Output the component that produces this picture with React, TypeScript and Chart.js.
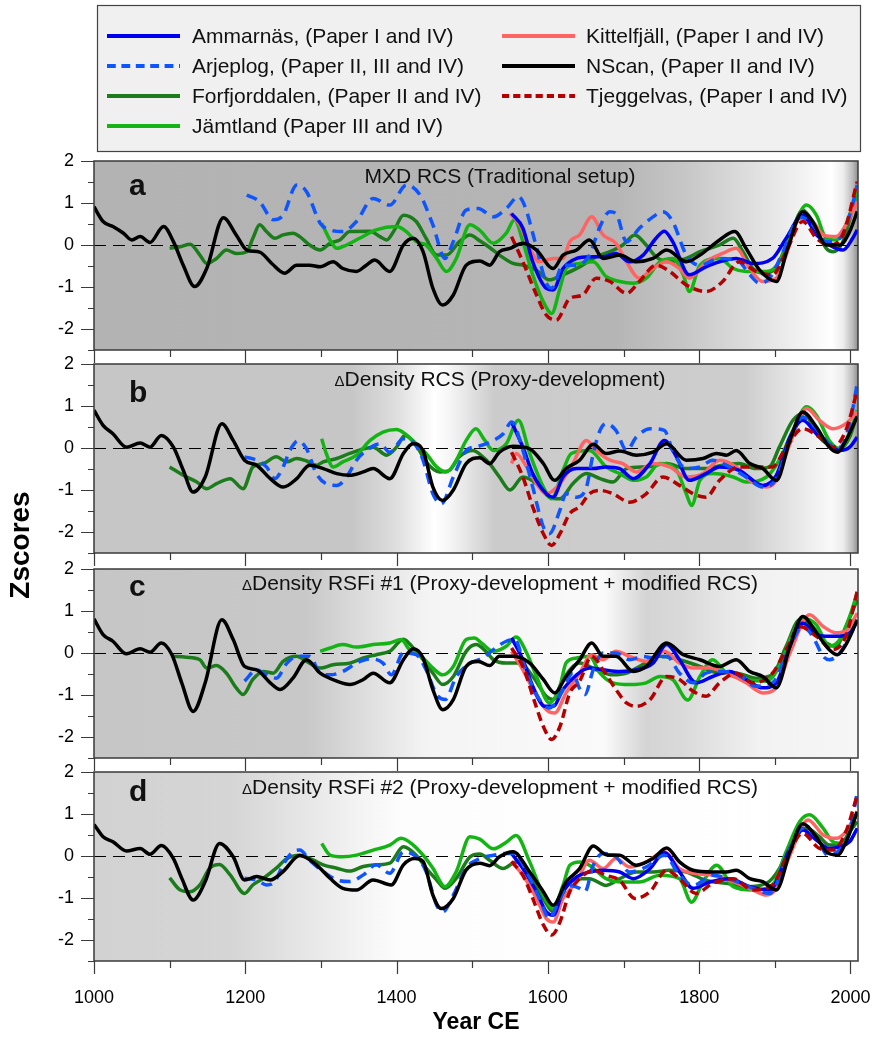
import { useEffect, useRef } from 'react';
import { Chart, registerables } from 'chart.js';

Chart.register(...registerables);

const FONT = "'Liberation Sans', Arial, Helvetica, sans-serif";

// ---------- axes ----------
const YEAR_MIN = 1000;
const YEAR_MAX = 2010;
const Z_MIN = -2.5;
const Z_MAX = 2;
const X_TICKS = [1000, 1100, 1200, 1300, 1400, 1500, 1600, 1700, 1800, 1900, 2000];
const X_LABELS = [1000, 1200, 1400, 1600, 1800, 2000];
const Y_TICKS = [-2.5, -2, -1.5, -1, -0.5, 0, 0.5, 1, 1.5, 2];
const Y_LABELS = [-2, -1, 0, 1, 2];

// ---------- series ----------
const SERIES_NAMES = [
  'Ammarnäs, (Paper I and IV)',
  'Arjeplog, (Paper II, III and IV)',
  'Forfjorddalen, (Paper II and IV)',
  'Jämtland (Paper III and IV)',
  'Kittelfjäll, (Paper I and IV)',
  'NScan, (Paper II and IV)',
  'Tjeggelvas, (Paper I and IV)',
];
const PANEL_LETTERS = ['a', 'b', 'c', 'd'];
const PANEL_TITLE_PREFIX = ['', 'Δ', 'Δ', 'Δ'];
const PANEL_TITLES = [
  'MXD RCS (Traditional setup)',
  'Density RCS (Proxy-development)',
  'Density RSFi #1 (Proxy-development + modified RCS)',
  'Density RSFi #2 (Proxy-development + modified RCS)',
];

// ---------- panel a : MXD RCS ----------
const A_AMMARNAS = [[1552,0.75],[1567,0.4],[1580,-0.4],[1598,-1.03],[1607,-1.07],[1620,-0.56],[1638,-0.32],[1655,-0.28],[1673,-0.28],[1690,-0.2],[1708,-0.4],[1726,-0.24],[1743,0.16],[1754,0.33],[1765,0.08],[1787,-0.71],[1809,-0.52],[1827,-0.4],[1849,-0.32],[1871,-0.44],[1897,-0.32],[1915,0.16],[1937,0.71],[1955,0.24],[1972,0],[1990,-0.12],[2003,0.16],[2009,0.36]];
const A_ARJEPLOG = [[1202,1.19],[1219,1.03],[1237,0.6],[1250,0.71],[1268,1.43],[1281,1.27],[1299,0.52],[1312,0.36],[1329,0.32],[1347,0.56],[1369,1.11],[1391,0.95],[1413,1.43],[1431,1.19],[1448,0.48],[1464,-0.32],[1475,0.08],[1492,0.83],[1508,0.87],[1528,0.67],[1545,0.87],[1561,1.15],[1569,0.95],[1583,0.08],[1598,-0.91],[1605,-1.03],[1620,-0.48],[1638,-0.48],[1655,-0.24],[1668,0.4],[1682,0.79],[1690,0.75],[1704,0.08],[1721,0.4],[1739,0.67],[1752,0.79],[1765,0.56],[1783,-0.24],[1801,-0.48],[1827,-0.32],[1853,-0.4],[1867,-0.71],[1880,-0.91],[1893,-0.79],[1911,-0.16],[1933,0.67],[1950,0.48],[1968,0.08],[1986,0.16],[1999,0.71],[2009,1.43]];
const A_FORFJORDDALEN = [[1100,-0.08],[1114,-0.04],[1127,0.02],[1140,-0.24],[1149,-0.44],[1162,-0.32],[1175,-0.12],[1188,-0.2],[1202,-0.16],[1210,0.16],[1219,0.48],[1228,0.32],[1239,0.16],[1250,0.24],[1263,0.28],[1272,0.2],[1285,0],[1299,-0.12],[1312,0.04],[1325,0.12],[1338,0.32],[1365,0.33],[1378,0.2],[1387,0.12],[1396,0.32],[1409,0.71],[1426,0.56],[1439,0.16],[1453,-0.24],[1466,-0.24],[1483,0.08],[1497,0.24],[1510,0.1],[1523,-0.06],[1536,-0.24],[1554,-0.44],[1567,-0.48],[1585,-0.6],[1602,-0.83],[1620,-0.71],[1642,-0.52],[1664,-0.28],[1682,-0.16],[1699,0],[1715,0.24],[1730,0],[1743,-0.28],[1761,-0.4],[1783,-0.32],[1801,-0.16],[1827,0],[1845,0.16],[1858,-0.16],[1871,-0.56],[1889,-0.67],[1902,-0.52],[1920,0.2],[1937,0.83],[1950,0.56],[1968,-0.08],[1977,-0.16],[1990,0.08],[2009,1.27]];
const A_JAMTLAND = [[1301,0.52],[1312,0.12],[1321,-0.08],[1334,0],[1351,0.16],[1373,0.36],[1400,0.44],[1413,0.32],[1426,0.08],[1439,0],[1453,-0.32],[1466,-0.63],[1479,-0.32],[1497,0.48],[1510,0.35],[1528,0.04],[1545,0.28],[1556,0.6],[1567,0.08],[1580,-0.71],[1594,-1.35],[1605,-1.63],[1616,-1.03],[1624,-0.56],[1642,-0.44],[1660,-0.4],[1677,-0.75],[1695,-0.87],[1713,-0.91],[1730,-0.79],[1748,-0.4],[1765,-0.32],[1779,-0.71],[1787,-1.11],[1801,-0.48],[1827,-0.32],[1845,-0.56],[1862,-0.63],[1889,-0.63],[1906,-0.4],[1924,0.4],[1942,0.95],[1955,0.71],[1968,0.16],[1981,0.12],[1994,0.48],[2009,1.27]];
const A_KITTELFJALL = [[1550,0.75],[1563,0.48],[1576,-0.08],[1589,-0.4],[1607,-0.32],[1620,-0.32],[1629,0.08],[1642,0.24],[1658,0.67],[1673,0.24],[1690,0.04],[1704,-0.4],[1721,-0.79],[1739,-0.56],[1757,-0.4],[1774,-0.56],[1787,-0.79],[1809,-0.4],[1831,-0.2],[1849,-0.08],[1867,-0.56],[1884,-0.87],[1902,-0.79],[1915,-0.24],[1933,0.63],[1950,0.56],[1964,0.24],[1981,0.2],[1994,0.48],[2009,1.03]];
const A_NSCAN = [[1000,0.91],[1012,0.56],[1025,0.44],[1039,0.28],[1050,0.12],[1061,0.2],[1074,0.06],[1092,0.44],[1105,0.08],[1118,-0.48],[1133,-0.99],[1149,-0.56],[1171,0.65],[1188,0.24],[1202,-0.12],[1219,-0.17],[1235,-0.44],[1252,-0.67],[1268,-0.48],[1285,-0.48],[1299,-0.52],[1316,-0.4],[1329,-0.56],[1347,-0.63],[1360,-0.48],[1371,-0.36],[1391,-0.63],[1409,0],[1422,0.16],[1435,-0.16],[1448,-1.03],[1461,-1.43],[1475,-1.19],[1492,-0.48],[1510,-0.38],[1523,-0.48],[1536,-0.16],[1550,-0.08],[1567,0.04],[1585,-0.12],[1607,-0.56],[1620,-0.24],[1638,-0.12],[1655,0.12],[1673,-0.32],[1695,-0.24],[1717,-0.4],[1739,-0.32],[1757,-0.12],[1783,-0.4],[1801,-0.24],[1827,0.12],[1847,0.32],[1862,-0.08],[1880,-0.6],[1902,-0.87],[1917,-0.08],[1937,0.79],[1950,0.56],[1968,0],[1986,0],[1999,0.32],[2009,0.8]];
const A_TJEGGELVAS = [[1552,0.2],[1567,-0.4],[1585,-1.19],[1598,-1.67],[1611,-1.79],[1629,-1.27],[1646,-1.19],[1664,-0.79],[1682,-0.87],[1704,-1.15],[1721,-0.87],[1743,-0.48],[1761,-0.63],[1783,-0.95],[1809,-1.11],[1831,-0.87],[1853,-0.4],[1875,-0.63],[1897,-0.71],[1915,-0.16],[1937,0.56],[1955,0.16],[1972,0],[1990,0.24],[2009,1.51]];

// ---------- panel b : ΔDensity RCS ----------
const B_AMMARNAS = [[1552,0.62],[1567,0.02],[1580,-0.61],[1598,-1.09],[1607,-1.17],[1620,-0.69],[1638,-0.49],[1660,-0.49],[1677,-0.45],[1695,-0.49],[1713,-0.73],[1735,-0.37],[1754,0.18],[1770,-0.21],[1787,-0.77],[1809,-0.61],[1827,-0.45],[1853,-0.53],[1884,-0.89],[1902,-0.65],[1920,0.26],[1937,0.66],[1955,0.34],[1972,0.06],[1986,-0.06],[1999,0.02],[2009,0.26]];
const B_ARJEPLOG = [[1199,-0.21],[1215,-0.29],[1228,-0.45],[1239,-0.73],[1250,-0.45],[1259,-0.06],[1270,0.17],[1281,-0.02],[1294,-0.61],[1307,-0.85],[1321,-0.89],[1334,-0.69],[1347,-0.29],[1360,-0.06],[1378,0.1],[1391,-0.1],[1409,0.22],[1424,0.1],[1435,-0.29],[1448,-1.09],[1459,-1.33],[1475,-0.69],[1492,-0.06],[1508,0.04],[1528,0.18],[1541,0.34],[1552,0.62],[1567,-0.06],[1580,-0.93],[1594,-1.88],[1602,-2.04],[1616,-1.48],[1624,-1.09],[1638,-1.17],[1651,-0.93],[1660,-0.13],[1669,0.42],[1677,0.58],[1690,0.42],[1704,-0.06],[1717,0.26],[1735,0.46],[1754,0.42],[1765,-0.06],[1783,-0.49],[1801,-0.45],[1818,-0.29],[1840,-0.45],[1862,-0.69],[1884,-0.93],[1902,-0.73],[1920,0.18],[1937,0.74],[1955,0.46],[1972,0.1],[1986,0.02],[1999,0.58],[2009,1.53]];
const B_FORFJORDDALEN = [[1100,-0.45],[1118,-0.65],[1136,-0.81],[1149,-0.97],[1162,-0.85],[1180,-0.73],[1197,-0.97],[1210,-0.45],[1224,-0.37],[1241,-0.21],[1255,-0.33],[1268,-0.25],[1281,-0.31],[1294,-0.41],[1303,-0.33],[1321,-0.25],[1338,-0.13],[1356,-0.02],[1369,0.02],[1387,-0.17],[1400,0.02],[1411,0.3],[1426,0.06],[1439,-0.33],[1457,-0.57],[1470,-0.53],[1483,-0.21],[1501,-0.06],[1514,-0.21],[1523,-0.37],[1536,-0.69],[1550,-1.0],[1567,-0.69],[1585,-0.85],[1602,-1.17],[1616,-1.21],[1633,-0.85],[1651,-0.61],[1669,-0.73],[1686,-0.81],[1704,-0.49],[1730,-0.45],[1757,-0.37],[1783,-0.49],[1809,-0.49],[1831,-0.41],[1853,-0.37],[1875,-0.49],[1893,-0.45],[1906,0.02],[1924,0.66],[1939,0.82],[1955,0.34],[1972,0.06],[1986,-0.02],[1999,0.26],[2009,0.82]];
const B_JAMTLAND = [[1301,0.22],[1307,-0.13],[1316,-0.45],[1329,-0.33],[1347,-0.17],[1365,0.18],[1382,0.38],[1400,0.44],[1411,0.34],[1426,0.1],[1439,-0.13],[1453,-0.45],[1466,-0.57],[1479,-0.29],[1492,0.18],[1505,0.46],[1516,0.2],[1528,-0.06],[1545,0.1],[1561,0.66],[1576,-0.13],[1594,-0.93],[1605,-1.21],[1620,-0.53],[1631,-0.13],[1655,-0.06],[1677,-0.45],[1695,-0.61],[1713,-0.77],[1730,-0.69],[1748,-0.37],[1770,-0.53],[1783,-1.09],[1790,-1.37],[1801,-0.77],[1818,-0.61],[1845,-0.69],[1862,-0.81],[1889,-0.69],[1906,-0.29],[1924,0.42],[1942,0.98],[1955,0.78],[1972,0.18],[1986,-0.02],[1999,0.34],[2009,0.9]];
const B_KITTELFJALL = [[1552,-0.37],[1558,-0.13],[1572,-0.45],[1585,-0.85],[1598,-1.09],[1616,-0.85],[1633,-0.37],[1651,0.18],[1664,-0.06],[1682,-0.29],[1699,-0.37],[1717,-0.57],[1739,-0.37],[1761,-0.45],[1783,-0.69],[1805,-0.61],[1827,-0.29],[1849,-0.45],[1867,-0.77],[1889,-0.93],[1902,-0.77],[1920,0.1],[1942,0.94],[1959,0.66],[1977,0.46],[1994,0.58],[2009,0.86]];
const B_NSCAN = [[1000,0.9],[1012,0.54],[1025,0.34],[1043,0.02],[1061,0.12],[1074,0.02],[1089,0.3],[1105,0.02],[1118,-0.53],[1131,-1.05],[1147,-0.69],[1169,0.58],[1184,0.18],[1199,-0.29],[1215,-0.41],[1233,-0.73],[1250,-0.93],[1268,-0.73],[1285,-0.41],[1303,-0.49],[1321,-0.61],[1338,-0.65],[1356,-0.57],[1369,-0.49],[1391,-0.73],[1409,-0.13],[1422,0.1],[1435,-0.06],[1448,-0.93],[1461,-1.25],[1475,-1.0],[1492,-0.37],[1510,-0.23],[1523,-0.37],[1536,-0.1],[1554,0.04],[1576,-0.02],[1594,-0.37],[1609,-0.77],[1624,-0.49],[1642,-0.29],[1660,0.09],[1677,-0.13],[1695,-0.07],[1717,-0.17],[1739,-0.1],[1757,0.1],[1783,-0.29],[1805,-0.25],[1823,-0.13],[1836,-0.17],[1849,-0.06],[1867,-0.37],[1884,-0.49],[1902,-0.77],[1920,0.18],[1937,0.86],[1955,0.5],[1972,0.02],[1983,-0.1],[1994,0.18],[2009,0.75]];
const B_TJEGGELVAS = [[1552,-0.1],[1567,-0.69],[1580,-1.4],[1594,-2.04],[1605,-2.32],[1616,-2.04],[1629,-1.56],[1642,-1.4],[1655,-1.09],[1669,-1.01],[1686,-1.09],[1708,-1.29],[1730,-1.09],[1752,-0.69],[1774,-0.89],[1792,-1.09],[1809,-1.17],[1827,-0.77],[1853,-0.45],[1875,-0.45],[1897,-0.45],[1915,0.02],[1937,0.46],[1959,0.26],[1977,0.02],[1994,0.42],[2009,1.37]];

// ---------- panel c : ΔDensity RSFi #1 ----------
const C_AMMARNAS = [[1552,0.36],[1567,-0.16],[1580,-0.79],[1596,-1.27],[1607,-1.27],[1620,-0.87],[1638,-0.52],[1655,-0.36],[1673,-0.4],[1695,-0.44],[1717,-0.4],[1739,-0.24],[1757,0.2],[1774,-0.16],[1796,-0.71],[1818,-0.56],[1840,-0.44],[1862,-0.63],[1884,-0.83],[1902,-0.71],[1920,0.16],[1937,0.71],[1955,0.44],[1972,0.4],[1986,0.4],[1999,0.48],[2009,0.75]];
const C_ARJEPLOG = [[1199,-0.67],[1215,-0.4],[1228,-0.52],[1241,-0.6],[1255,-0.24],[1268,-0.08],[1285,-0.08],[1299,-0.48],[1312,-0.52],[1329,-0.44],[1347,-0.24],[1365,-0.14],[1382,-0.24],[1393,-0.52],[1409,0],[1426,-0.04],[1439,-0.4],[1453,-0.99],[1464,-1.11],[1479,-0.56],[1497,-0.24],[1512,-0.14],[1528,0.08],[1545,0.28],[1556,0.32],[1572,-0.48],[1589,-1.11],[1602,-1.31],[1618,-0.95],[1633,-0.48],[1642,-0.85],[1649,-0.99],[1660,-0.4],[1673,0],[1690,0],[1708,-0.16],[1726,-0.08],[1739,-0.12],[1757,-0.08],[1774,-0.48],[1792,-0.71],[1809,-0.48],[1827,-0.44],[1849,-0.48],[1875,-0.79],[1897,-0.71],[1920,0.16],[1937,0.63],[1950,0.4],[1964,-0.08],[1972,-0.16],[1986,0],[1999,0.4],[2009,0.75]];
const C_FORFJORDDALEN = [[1103,-0.08],[1122,-0.1],[1140,-0.16],[1149,-0.36],[1162,-0.3],[1175,-0.48],[1188,-0.83],[1197,-0.99],[1210,-0.63],[1224,-0.44],[1237,-0.48],[1250,-0.2],[1268,-0.08],[1281,-0.2],[1299,-0.36],[1316,-0.28],[1338,-0.24],[1356,-0.12],[1373,-0.04],[1391,0.04],[1409,0.33],[1422,0.12],[1435,-0.16],[1448,-0.48],[1461,-0.75],[1475,-0.56],[1492,0.04],[1505,0.2],[1519,0.02],[1528,-0.16],[1545,-0.24],[1563,-0.24],[1580,-0.56],[1598,-1.03],[1607,-1.11],[1620,-0.63],[1642,-0.24],[1664,-0.4],[1686,-0.52],[1704,-0.48],[1721,-0.32],[1748,-0.08],[1774,-0.16],[1801,-0.32],[1827,-0.48],[1849,-0.48],[1875,-0.6],[1897,-0.52],[1915,0.16],[1933,0.79],[1950,0.63],[1968,0.24],[1981,0.16],[1994,0.63],[2009,1.27]];
const C_JAMTLAND = [[1299,0.04],[1312,0.12],[1329,0.2],[1347,0.14],[1369,0.2],[1391,0.24],[1406,0.32],[1417,0.08],[1435,-0.12],[1448,-0.36],[1461,-0.52],[1475,-0.32],[1492,0.32],[1503,0.36],[1512,0.24],[1528,0.04],[1545,0.16],[1558,0.38],[1572,0],[1585,-0.56],[1602,-1.19],[1616,-0.79],[1624,-0.24],[1638,-0.12],[1655,-0.08],[1669,-0.48],[1686,-0.71],[1708,-0.75],[1730,-0.71],[1748,-0.56],[1765,-0.63],[1785,-1.12],[1801,-0.56],[1818,-0.16],[1836,-0.48],[1862,-0.63],[1889,-0.67],[1906,-0.32],[1924,0.48],[1937,0.83],[1955,0.67],[1972,0.16],[1986,0.32],[1999,0.87],[2009,1.43]];
const C_KITTELFJALL = [[1552,0.04],[1567,-0.4],[1583,-0.95],[1598,-1.35],[1609,-1.43],[1624,-0.95],[1642,-0.48],[1658,-0.04],[1673,-0.16],[1690,0.04],[1708,-0.08],[1730,-0.2],[1754,0.04],[1774,-0.24],[1792,-0.36],[1814,-0.36],[1836,-0.48],[1862,-0.71],[1884,-0.95],[1902,-0.83],[1920,0],[1946,0.91],[1964,0.63],[1981,0.48],[1994,0.52],[2009,0.95]];
const C_NSCAN = [[1000,0.81],[1012,0.44],[1025,0.28],[1043,-0.02],[1061,0.1],[1074,0.02],[1089,0.24],[1103,-0.04],[1116,-0.71],[1131,-1.39],[1147,-0.71],[1169,0.79],[1184,0.32],[1199,-0.32],[1215,-0.4],[1233,-0.71],[1246,-0.87],[1263,-0.6],[1281,-0.16],[1299,-0.48],[1321,-0.67],[1338,-0.75],[1356,-0.63],[1369,-0.48],[1391,-0.71],[1409,-0.16],[1422,0.1],[1435,-0.12],[1448,-0.87],[1461,-1.35],[1475,-1.11],[1492,-0.32],[1508,-0.2],[1523,-0.3],[1536,-0.08],[1554,-0.08],[1576,-0.24],[1594,-0.63],[1609,-0.95],[1624,-0.56],[1642,-0.16],[1658,0.24],[1673,-0.08],[1690,-0.08],[1713,-0.44],[1730,-0.32],[1757,0.24],[1779,-0.04],[1801,-0.16],[1827,-0.32],[1849,-0.16],[1867,-0.44],[1884,-0.56],[1902,-0.83],[1920,0.16],[1937,0.87],[1955,0.48],[1972,0.08],[1983,-0.04],[1994,0.2],[2009,0.79]];
const C_TJEGGELVAS = [[1552,0.12],[1567,-0.32],[1583,-1.19],[1594,-1.75],[1605,-2.06],[1616,-1.75],[1629,-0.95],[1642,-0.67],[1658,-0.08],[1673,-0.4],[1690,-0.87],[1704,-1.19],[1717,-1.27],[1735,-1.11],[1757,-0.56],[1774,-0.63],[1792,-0.91],[1809,-1.03],[1827,-0.71],[1849,-0.48],[1871,-0.71],[1897,-0.48],[1915,0.08],[1933,0.63],[1955,0.4],[1977,0.08],[1994,0.4],[2009,1.47]];

// ---------- panel d : ΔDensity RSFi #2 ----------
const D_AMMARNAS = [[1552,0.06],[1567,-0.3],[1585,-0.85],[1598,-1.33],[1607,-1.41],[1620,-0.85],[1638,-0.5],[1655,-0.38],[1673,-0.34],[1695,-0.38],[1713,-0.54],[1735,-0.3],[1754,0.08],[1774,-0.38],[1792,-0.77],[1814,-0.62],[1840,-0.54],[1867,-0.73],[1893,-0.81],[1920,0.18],[1937,0.62],[1955,0.38],[1972,0.18],[1986,0.22],[1999,0.34],[2009,0.66]];
const D_ARJEPLOG = [[1199,-0.53],[1215,-0.57],[1228,-0.69],[1239,-0.61],[1250,-0.21],[1263,0.1],[1272,0.14],[1285,-0.1],[1303,-0.37],[1321,-0.57],[1338,-0.61],[1356,-0.45],[1373,-0.21],[1391,-0.41],[1409,0.1],[1426,-0.02],[1439,-0.37],[1453,-1.17],[1461,-1.33],[1475,-0.93],[1492,-0.29],[1510,-0.06],[1528,0.02],[1545,0.06],[1556,0.06],[1572,-0.38],[1589,-1.01],[1602,-1.49],[1616,-1.01],[1629,-0.7],[1642,-0.77],[1649,-0.85],[1660,-0.22],[1673,0.06],[1690,-0.02],[1708,-0.38],[1730,-0.26],[1754,0.02],[1774,-0.46],[1792,-0.7],[1818,-0.46],[1845,-0.58],[1871,-0.77],[1893,-0.89],[1920,0.18],[1937,0.66],[1955,0.45],[1970,0.02],[1983,0.1],[1999,0.57],[2009,1.52]];
const D_FORFJORDDALEN = [[1100,-0.52],[1114,-0.81],[1127,-0.85],[1140,-0.69],[1153,-0.29],[1166,-0.2],[1180,-0.45],[1199,-0.89],[1210,-0.69],[1224,-0.53],[1241,-0.29],[1255,-0.06],[1272,0.02],[1290,-0.1],[1303,-0.21],[1321,-0.29],[1338,-0.36],[1356,-0.25],[1373,-0.21],[1391,-0.17],[1409,0.22],[1426,0.02],[1439,-0.29],[1453,-0.57],[1464,-0.77],[1479,-0.53],[1497,-0.02],[1510,0.05],[1523,-0.1],[1541,-0.3],[1558,-0.14],[1576,-0.46],[1594,-1.01],[1607,-1.33],[1620,-0.85],[1638,-0.54],[1655,-0.54],[1677,-0.7],[1695,-0.54],[1717,-0.38],[1739,-0.38],[1761,-0.34],[1783,-0.38],[1809,-0.58],[1836,-0.65],[1862,-0.73],[1889,-0.65],[1906,-0.3],[1924,0.42],[1942,0.66],[1959,0.46],[1972,0.26],[1986,0.26],[1999,0.58],[2009,0.82]];
const D_JAMTLAND = [[1301,0.3],[1312,0.02],[1329,-0.02],[1347,0.02],[1369,0.14],[1391,0.26],[1406,0.42],[1422,0.26],[1435,0.02],[1448,-0.29],[1464,-0.73],[1479,-0.37],[1497,0.46],[1510,0.4],[1528,0.17],[1545,0.33],[1558,0.49],[1576,-0.14],[1594,-0.93],[1607,-1.25],[1620,-0.7],[1629,-0.22],[1642,-0.14],[1655,-0.22],[1677,-0.54],[1699,-0.62],[1721,-0.62],[1748,-0.46],[1774,-0.54],[1790,-1.1],[1805,-0.62],[1823,-0.22],[1845,-0.73],[1871,-0.81],[1897,-0.69],[1915,0.1],[1933,0.82],[1946,0.98],[1964,0.66],[1977,0.34],[1990,0.3],[2009,1.06]];
const D_KITTELFJALL = [[1552,-0.14],[1567,-0.46],[1585,-1.01],[1598,-1.49],[1607,-1.57],[1620,-1.01],[1638,-0.62],[1655,-0.1],[1673,-0.3],[1690,-0.06],[1708,-0.26],[1730,-0.14],[1754,0.1],[1774,-0.3],[1796,-0.42],[1818,-0.46],[1840,-0.58],[1867,-0.77],[1889,-0.93],[1902,-0.77],[1920,0.02],[1944,0.86],[1964,0.5],[1981,0.42],[1994,0.58],[2009,1.06]];
const D_NSCAN = [[1000,0.75],[1012,0.46],[1025,0.34],[1043,0.12],[1061,0.18],[1074,0.04],[1089,0.25],[1105,-0.06],[1116,-0.53],[1131,-1.05],[1147,-0.61],[1166,0.3],[1184,-0.02],[1199,-0.57],[1215,-0.49],[1233,-0.57],[1250,-0.37],[1272,0.01],[1294,-0.21],[1312,-0.53],[1329,-0.77],[1347,-0.81],[1369,-0.57],[1393,-0.69],[1409,-0.21],[1424,-0.06],[1435,-0.13],[1448,-0.93],[1459,-1.25],[1475,-1.01],[1492,-0.33],[1510,-0.17],[1523,-0.23],[1536,-0.02],[1554,0.1],[1576,-0.38],[1594,-0.85],[1607,-1.17],[1624,-0.62],[1642,-0.3],[1660,0.24],[1677,0.03],[1695,0.02],[1717,-0.22],[1739,-0.06],[1757,0.19],[1774,-0.14],[1792,-0.34],[1818,-0.38],[1836,-0.38],[1849,-0.34],[1867,-0.54],[1884,-0.61],[1902,-0.81],[1920,0.1],[1937,0.77],[1955,0.45],[1968,0.1],[1983,0.02],[1994,0.33],[2009,1.05]];
const D_TJEGGELVAS = [[1552,-0.13],[1567,-0.46],[1580,-1.01],[1594,-1.64],[1605,-1.88],[1616,-1.57],[1629,-0.85],[1642,-0.54],[1660,-0.34],[1677,-0.46],[1695,-0.58],[1715,-1.01],[1735,-0.85],[1757,-0.34],[1774,-0.54],[1796,-0.89],[1818,-0.65],[1845,-0.54],[1871,-0.81],[1897,-0.69],[1915,-0.06],[1937,0.54],[1959,0.18],[1977,0.14],[1994,0.58],[2009,1.45]];

const PANEL_DATA = [
  [A_AMMARNAS, A_ARJEPLOG, A_FORFJORDDALEN, A_JAMTLAND, A_KITTELFJALL, A_NSCAN, A_TJEGGELVAS],
  [B_AMMARNAS, B_ARJEPLOG, B_FORFJORDDALEN, B_JAMTLAND, B_KITTELFJALL, B_NSCAN, B_TJEGGELVAS],
  [C_AMMARNAS, C_ARJEPLOG, C_FORFJORDDALEN, C_JAMTLAND, C_KITTELFJALL, C_NSCAN, C_TJEGGELVAS],
  [D_AMMARNAS, D_ARJEPLOG, D_FORFJORDDALEN, D_JAMTLAND, D_KITTELFJALL, D_NSCAN, D_TJEGGELVAS],
];

// ---------- styles ----------
const SERIES_COLORS = ['#0000f0', '#0f55ff', '#1c7c1c', '#14b414', '#ff6464', '#000000', '#b40000'];
const SERIES_DASH: number[][] = [[], [11, 7], [], [], [], [], [9, 5]];
const SERIES_ORDER = [3, 2, 6, 5, 4, 0, 1];

const W = 877;
const H = 1039;
const PANEL_TOPS = [161, 364, 569, 772];
const PANEL_H = 189;
const PLOT_LEFT = 94;
const PLOT_RIGHT = 858;
const X_AXIS_H = 78;
const LETTER_OFFSETS = [34, 38, 27, 29];
const TITLE_OFFSETS = [22, 22, 21, 22];

const BG_STOPS: [number, string][][] = [
  [[1000, '#b3b3b3'], [1690, '#b5b5b5'], [1780, '#c6c6c6'], [1860, '#dcdcdc'], [1930, '#f0f0f0'], [1975, '#ffffff'], [1990, '#eeeeee'], [2003, '#bbbbbb'], [2010, '#8e8e8e']],
  [[1000, '#c6c6c6'], [1340, '#c6c6c6'], [1400, '#dedede'], [1450, '#ffffff'], [1470, '#f6f6f6'], [1530, '#cbcbcb'], [1860, '#cdcdcd'], [1925, '#e6e6e6'], [1975, '#f9f9f9'], [1990, '#eeeeee'], [2003, '#bdbdbd'], [2010, '#8e8e8e']],
  [[1000, '#c6c6c6'], [1280, '#c8c8c8'], [1440, '#f4f4f4'], [1675, '#fafafa'], [1730, '#d4d4d4'], [1780, '#dadada'], [1880, '#f2f2f2'], [2010, '#f6f6f6']],
  [[1000, '#d2d2d2'], [1180, '#d5d5d5'], [1260, '#e3e3e3'], [1405, '#fdfdfd'], [2010, '#ffffff']],
];

const LEGEND_BOX = { x: 97, y: 5, w: 763, h: 146 };
const LEGEND_ROWS = [36, 66, 96, 126];
const LEGEND_COLS = [{ sx: 107, ex: 180, tx: 192 }, { sx: 502, ex: 575, tx: 586 }];
const LEGEND_SLOTS = [[0, 0], [0, 1], [0, 2], [0, 3], [1, 0], [1, 1], [1, 2]];

const decoPlugin = {
  id: 'deco',
  beforeDraw(chart: any, _a: any, opts: any) {
    const { ctx, chartArea: ca, scales } = chart;
    const x = scales.x;
    const g = ctx.createLinearGradient(ca.left, 0, ca.right, 0);
    for (const [yr, col] of BG_STOPS[opts.panel]) {
      const f = (x.getPixelForValue(yr) - ca.left) / (ca.right - ca.left);
      g.addColorStop(Math.min(1, Math.max(0, f)), col);
    }
    ctx.save();
    ctx.fillStyle = g;
    ctx.fillRect(ca.left, ca.top, ca.right - ca.left, ca.bottom - ca.top);
    ctx.restore();
  },
  beforeDatasetsDraw(chart: any) {
    const { ctx, chartArea: ca, scales } = chart;
    const y0 = scales.y.getPixelForValue(0);
    ctx.save();
    ctx.strokeStyle = '#000';
    ctx.lineWidth = 1;
    ctx.setLineDash([12, 7]);
    ctx.beginPath();
    ctx.moveTo(ca.left, Math.round(y0) + 0.5);
    ctx.lineTo(ca.right, Math.round(y0) + 0.5);
    ctx.stroke();
    ctx.restore();
  },
  afterDatasetsDraw(chart: any, _a: any, opts: any) {
    const { ctx, chartArea: ca, scales } = chart;
    const p = opts.panel;
    ctx.save();
    ctx.strokeStyle = '#3a3a3a';
    ctx.lineWidth = 1.5;
    ctx.setLineDash([]);
    ctx.strokeRect(ca.left, ca.top, ca.right - ca.left, ca.bottom - ca.top);
    ctx.lineWidth = 1.2;
    ctx.beginPath();
    for (const v of Y_TICKS) {
      const py = Math.round(scales.y.getPixelForValue(v)) + 0.5;
      const len = Y_LABELS.includes(v) ? 13 : 6;
      ctx.moveTo(ca.left - len, py);
      ctx.lineTo(ca.left, py);
    }
    for (const v of X_TICKS) {
      const px = Math.round(scales.x.getPixelForValue(v)) + 0.5;
      const len = X_LABELS.includes(v) ? 13 : 7;
      ctx.moveTo(px, ca.bottom);
      ctx.lineTo(px, ca.bottom + len);
    }
    ctx.stroke();
    ctx.fillStyle = '#111';
    ctx.font = `bold 30px ${FONT}`;
    ctx.textAlign = 'left';
    ctx.textBaseline = 'alphabetic';
    ctx.fillText(PANEL_LETTERS[p], 129, ca.top + LETTER_OFFSETS[p]);
    const prefix = PANEL_TITLE_PREFIX[p];
    const text = PANEL_TITLES[p];
    ctx.font = `21px ${FONT}`;
    const w2 = ctx.measureText(text).width;
    ctx.font = `15px ${FONT}`;
    const w1 = prefix ? ctx.measureText(prefix).width : 0;
    let tx = 500 - (w1 + w2) / 2;
    const ty = ca.top + TITLE_OFFSETS[p];
    if (prefix) {
      ctx.fillText(prefix, tx, ty);
      tx += w1;
    }
    ctx.font = `21px ${FONT}`;
    ctx.fillText(text, tx, ty);
    ctx.restore();
  },
  afterDraw(chart: any, _a: any, opts: any) {
    const { ctx } = chart;
    ctx.save();
    if (opts.legend) {
      const b = LEGEND_BOX;
      ctx.fillStyle = '#f0f0f0';
      ctx.fillRect(b.x, b.y, b.w, b.h);
      ctx.strokeStyle = '#444';
      ctx.lineWidth = 1.2;
      ctx.strokeRect(b.x + 0.5, b.y + 0.5, b.w, b.h);
      SERIES_NAMES.forEach((name, i) => {
        const [c, r] = LEGEND_SLOTS[i];
        const col = LEGEND_COLS[c];
        const yy = LEGEND_ROWS[r];
        ctx.strokeStyle = SERIES_COLORS[i];
        ctx.lineWidth = 4;
        ctx.setLineDash(SERIES_DASH[i].length ? [SERIES_DASH[i][0] * 0.8, SERIES_DASH[i][1] * 0.8] : []);
        ctx.beginPath();
        ctx.moveTo(col.sx, yy);
        ctx.lineTo(col.ex, yy);
        ctx.stroke();
        ctx.setLineDash([]);
        ctx.fillStyle = '#111';
        ctx.font = `21px ${FONT}`;
        ctx.textAlign = 'left';
        ctx.textBaseline = 'middle';
        ctx.fillText(name, col.tx, yy + 1);
      });
    }
    if (opts.yTitle) {
      ctx.translate(21, 545);
      ctx.rotate(-Math.PI / 2);
      ctx.fillStyle = '#000';
      ctx.font = `bold 28px ${FONT}`;
      ctx.textAlign = 'center';
      ctx.textBaseline = 'middle';
      ctx.fillText('Zscores', 0, 0);
    }
    ctx.restore();
  },
};

function buildConfig(p: number): any {
  const isLast = p === 3;
  const top = PANEL_TOPS[p];
  const datasets = PANEL_DATA[p].map((series, i) => ({
    label: SERIES_NAMES[i],
    data: series.map(([yr, v]) => ({ x: yr, y: v })),
    borderColor: SERIES_COLORS[i],
    backgroundColor: SERIES_COLORS[i],
    borderWidth: 3.5,
    borderDash: SERIES_DASH[i],
    borderCapStyle: 'butt',
    borderJoinStyle: 'round',
    pointRadius: 0,
    fill: false,
    cubicInterpolationMode: 'monotone',
    order: SERIES_ORDER[i],
    clip: 0,
  }));
  return {
    type: 'line',
    data: { datasets },
    options: {
      animation: false,
      responsive: false,
      events: [],
      layout: {
        padding: {
          top,
          left: 0,
          right: W - PLOT_RIGHT,
          bottom: isLast ? 0 : H - (top + PANEL_H),
        },
      },
      plugins: {
        legend: { display: false },
        tooltip: { enabled: false },
        title: { display: false },
        deco: { panel: p, legend: p === 0, yTitle: p === 3 },
      },
      scales: {
        x: {
          type: 'linear',
          min: YEAR_MIN,
          max: YEAR_MAX,
          display: isLast,
          grid: { display: false, drawTicks: false },
          border: { display: false },
          afterBuildTicks: (s: any) => {
            s.ticks = X_TICKS.map((v) => ({ value: v }));
          },
          ticks: {
            autoSkip: false,
            maxRotation: 0,
            minRotation: 0,
            padding: 26,
            color: '#000',
            font: { size: 18, family: FONT },
            callback: (v: number) => (X_LABELS.includes(Math.round(v)) ? String(Math.round(v)) : ''),
          },
          title: {
            display: true,
            text: 'Year CE',
            color: '#000',
            font: { size: 23, weight: 'bold', family: FONT },
            padding: { top: 0, bottom: 3 },
          },
          afterFit: (s: any) => {
            s.height = isLast ? X_AXIS_H : 0;
            s.paddingLeft = 0;
            s.paddingRight = 0;
          },
        },
        y: {
          type: 'linear',
          min: Z_MIN,
          max: Z_MAX,
          grid: { display: false, drawTicks: false },
          border: { display: false },
          afterBuildTicks: (s: any) => {
            s.ticks = Y_TICKS.map((v) => ({ value: v }));
          },
          ticks: {
            autoSkip: false,
            padding: 20,
            color: '#000',
            font: { size: 18, family: FONT },
            callback: (v: number) => (Y_LABELS.includes(v) ? String(v) : ''),
          },
          afterFit: (s: any) => {
            s.width = PLOT_LEFT;
            s.paddingTop = 0;
            s.paddingBottom = 0;
          },
        },
      },
    },
    plugins: [decoPlugin],
  };
}

export default function App() {
  const canvases = useRef<(HTMLCanvasElement | null)[]>([]);
  useEffect(() => {
    document.body.style.margin = '0';
    const charts = [0, 1, 2, 3].map((p) => new Chart(canvases.current[p] as HTMLCanvasElement, buildConfig(p)));
    return () => charts.forEach((c) => c.destroy());
  }, []);
  return (
    <div style={{ position: 'relative', width: W, height: H, background: '#fff', overflow: 'hidden' }}>
      {[0, 1, 2, 3].map((p) => (
        <canvas
          key={p}
          ref={(el) => {
            canvases.current[p] = el;
          }}
          width={W}
          height={H}
          style={{ position: 'absolute', left: 0, top: 0, width: W, height: H }}
        />
      ))}
    </div>
  );
}
